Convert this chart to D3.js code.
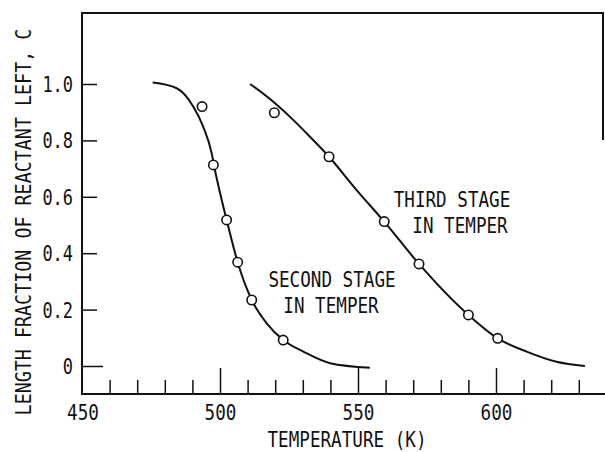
<!DOCTYPE html>
<html>
<head>
<meta charset="utf-8">
<script src="https://cdn.jsdelivr.net/npm/d3@7"></script>
<style>
  body { margin: 0; background: #fff; }
  svg text { font-family: "DejaVu Sans Mono", monospace; fill: #111; }
</style>
</head>
<body>
<svg width="605" height="452"></svg>
<script>
// second stage in temper: measured points and drawn curve
const secondT = [493.5, 497.6, 502.4, 506.4, 511.5, 522.9]
const secondC = [0.92, 0.713, 0.518, 0.368, 0.234, 0.092]
const secondCurveT = [475.6, 484.3, 490.3, 493.9, 497.0, 497.8, 502.4, 506.4, 511.5, 517, 522.9, 530.2, 539.9, 554.3]
const secondCurveC = [1.005, 0.985, 0.92, 0.849, 0.754, 0.713, 0.518, 0.368, 0.234, 0.15, 0.092, 0.051, 0.01, -0.006]

// third stage in temper
const thirdT = [519.7, 539.5, 559.5, 572.1, 590.0, 600.6]
const thirdC = [0.898, 0.742, 0.512, 0.362, 0.181, 0.098]
const thirdCurveT = [510.9, 519.3, 526.6, 532.6, 539.5, 549.5, 559.5, 572.1, 590.0, 600.6, 611.1, 621.9, 632.2]
const thirdCurveC = [1.0, 0.937, 0.872, 0.813, 0.742, 0.624, 0.512, 0.362, 0.181, 0.098, 0.051, 0.015, 0.0]

const xMajor = [450, 500, 550, 600]
const xMinor = [460, 470, 480, 490, 510, 520, 530, 540, 560, 570, 580, 590, 610, 620, 630]
const yTicks = [0, 0.2, 0.4, 0.6, 0.8, 1.0]

let svg = d3.select("svg")

let x = d3.scaleLinear().domain([450, 600]).range([82, 496])
let y = d3.scaleLinear().domain([0, 1]).range([366, 84])

// typewriter-ish narrow lettering: squeeze the mono glyphs
let squeeze = (sel, perChar) => {
  sel.attr("font-size", "21px")
    .attr("lengthAdjust", "spacingAndGlyphs")
    .attr("textLength", function() { return this.textContent.length * perChar })
}

// frame: left, bottom, top and a stub of the right side
svg.append("path")
  .attr("d", "M603," + 140 + "V13H82V394H" + x(640))
  .attr("fill", "none")
  .attr("stroke", "#111")
  .attr("stroke-width", 2)

// x axis ticks (pointing up)
let gx = svg.append("g").attr("transform", "translate(0,394)")
gx.call(d3.axisBottom(x).tickValues(xMinor).tickSizeInner(-14).tickSizeOuter(0).tickFormat(""))
gx.call(g => g.select(".domain").remove())
let gx2 = svg.append("g").attr("transform", "translate(0,394)")
gx2.call(d3.axisBottom(x).tickValues(xMajor.filter(d => d > 450)).tickSizeInner(-26).tickSizeOuter(0).tickPadding(12).tickFormat(d3.format("d")))
gx2.call(g => g.select(".domain").remove())
gx2.append("text")
  .attr("x", x(450) + 1)
  .attr("y", 26)
  .attr("text-anchor", "middle")
  .text("450")
gx.selectAll("line").attr("stroke", "#111").attr("stroke-width", 1.5)
gx2.selectAll("line").attr("stroke", "#111").attr("stroke-width", 1.5)
gx2.selectAll(".tick text").attr("dy", null).attr("y", 26)
gx2.selectAll("text").attr("font-family", null).attr("fill", null).call(squeeze, 10.6)

// y axis ticks (pointing right)
let gy = svg.append("g").attr("transform", "translate(82,0)")
gy.call(d3.axisLeft(y).tickValues(yTicks).tickSizeInner(-15).tickSizeOuter(0).tickPadding(9)
  .tickFormat(d => d === 0 ? "0" : d3.format(".1f")(d)))
gy.call(g => g.select(".domain").remove())
gy.selectAll("line").attr("stroke", "#111").attr("stroke-width", 1.5)
gy.selectAll(".tick").filter(d => d === 0).select("line").attr("x2", 21)
gy.selectAll("text").attr("font-family", null).attr("fill", null).attr("dy", "0.36em").call(squeeze, 10.2)

// axis titles
svg.append("text")
  .attr("x", 347).attr("y", 447)
  .attr("text-anchor", "middle")
  .text("TEMPERATURE (K)")
  .call(squeeze, 10.6)

svg.append("text")
  .attr("transform", "translate(31,222) rotate(-90)")
  .attr("text-anchor", "middle")
  .text("LENGTH FRACTION OF REACTANT LEFT, C")
  .call(squeeze, 11.05)

// curves
let line = d3.line()
  .x(d => x(d[0]))
  .y(d => y(d[1]))
  .curve(d3.curveMonotoneX)

let curves = [d3.zip(secondCurveT, secondCurveC), d3.zip(thirdCurveT, thirdCurveC)]
svg.selectAll(".curve")
  .data(curves)
  .join("path")
  .attr("class", "curve")
  .attr("d", line)
  .attr("fill", "none")
  .attr("stroke", "#111")
  .attr("stroke-width", 2)

let points = d3.zip(secondT, secondC).concat(d3.zip(thirdT, thirdC))
svg.selectAll("circle")
  .data(points)
  .join("circle")
  .attr("cx", d => x(d[0]))
  .attr("cy", d => y(d[1]))
  .attr("r", 4.7)
  .attr("fill", "#fff")
  .attr("stroke", "#111")
  .attr("stroke-width", 1.6)

// labels
let labels = [
  {t: "SECOND STAGE", x: 332, y: 287},
  {t: "IN TEMPER", x: 331, y: 313},
  {t: "THIRD STAGE", x: 452, y: 207},
  {t: "IN TEMPER", x: 460, y: 233}
]
svg.selectAll(".lab")
  .data(labels)
  .join("text")
  .attr("class", "lab")
  .attr("x", d => d.x)
  .attr("y", d => d.y)
  .attr("text-anchor", "middle")
  .text(d => d.t)
  .call(squeeze, 10.6)
</script>
</body>
</html>
